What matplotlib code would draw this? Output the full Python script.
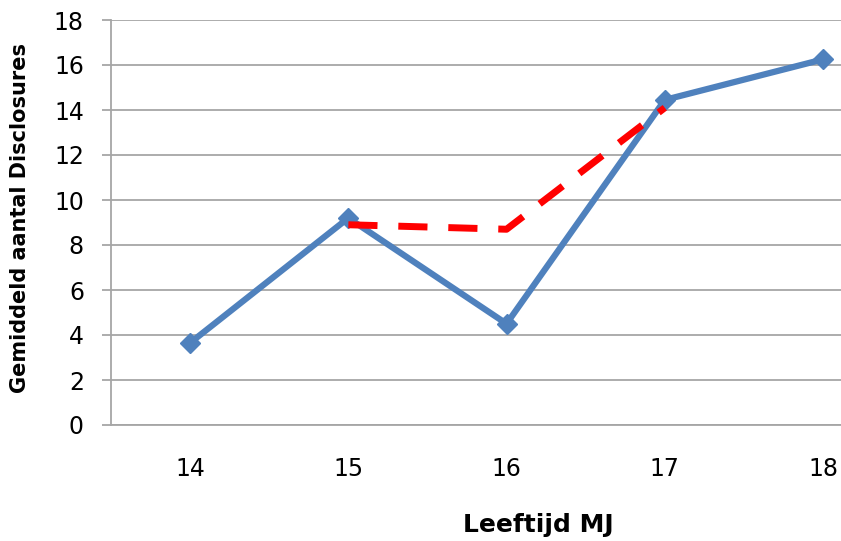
import matplotlib.pyplot as plt

# data
ages = ['14', '15', '16', '17', '18']
gemiddeld = [3.65, 9.2, 4.5, 14.45, 16.25]          # blue series
trend_idx = [1, 2, 3]                                # red dashed series at ages 15-17
trend = [8.9, 8.7, 14.1]

yticks = list(range(0, 19, 2))

fig = plt.figure(figsize=(8.41, 5.41), dpi=100)
ax = fig.add_axes([111/841, 1 - 425/541, (841 - 111)/841, 405/541])

x = list(range(len(ages)))
ax.plot(x, gemiddeld, color='#4f81bd', linewidth=4.5, marker='D', markersize=10,
        solid_joinstyle='miter', zorder=3)
ax.plot(trend_idx, trend, color='#ff0000', linewidth=5, dashes=(4.2, 3.0),
        solid_capstyle='butt', dash_capstyle='butt', zorder=4)

ax.set_xlim(-0.5, 4 + 18/158.25)
ax.set_ylim(0, 18)
ax.set_yticks(yticks)
ax.set_xticks(x)
ax.set_xticklabels(ages)

ax.grid(axis='y', color='#a6a6a6', linewidth=1.3)
ax.set_axisbelow(True)
for s in ['top', 'right']:
    ax.spines[s].set_visible(False)
for s in ['left', 'bottom']:
    ax.spines[s].set_color('#a6a6a6')
    ax.spines[s].set_linewidth(1.3)

ax.tick_params(axis='y', length=6.5, width=1.3, color='#a6a6a6', labelsize=17, pad=13)
ax.tick_params(axis='x', length=0, labelsize=17, pad=23)

fig.text(538/841, 1 - 525/541, 'Leeftijd MJ', fontsize=18, fontweight='bold',
         ha='center', va='center')
fig.text(20/841, 1 - 218/541, 'Gemiddeld aantal Disclosures', fontsize=15,
         fontweight='bold', rotation=90, ha='center', va='center')

fig.savefig('out.png', dpi=100)
